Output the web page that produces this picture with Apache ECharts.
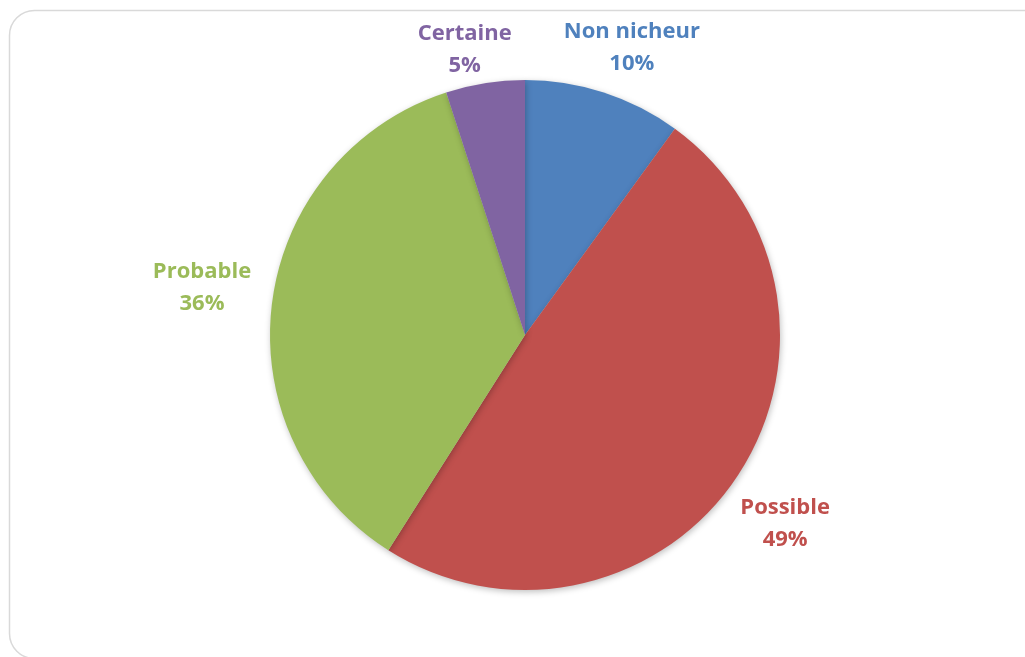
<!DOCTYPE html>
<html>
<head>
<meta charset="utf-8">
<style>
  html, body { margin: 0; padding: 0; background: #ffffff; }
  #chart { width: 1025px; height: 657px; }
</style>
<script src="https://cdn.jsdelivr.net/npm/echarts@6/dist/echarts.min.js"></script>
</head>
<body>
<div id="chart"></div>
<script>
// Breeding status shares (percent)
const categories = ['Non nicheur', 'Possible', 'Probable', 'Certaine'];
const shares = [10, 49, 36, 5];
const colors = ['#4F81BD', '#C0504D', '#9BBB59', '#8064A2'];

// pie geometry and label placement
const CX = 525, CY = 335, R = 255, GAP = 15;
const labelNudge = [[13, 2], [-8, 7], [-6, -7], [-13, 13]];
const FONT = '"Open Sans", "Noto Sans", sans-serif';

const total = shares.reduce((a, b) => a + b, 0);
// mid angle of each slice, clockwise from 12 o'clock
const midAngles = [];
let acc = 0;
shares.forEach(v => {
  midAngles.push((acc + v / 2) / total * Math.PI * 2);
  acc += v;
});

const chart = echarts.init(document.getElementById('chart'), null, { renderer: 'canvas' });

chart.setOption({
  backgroundColor: '#ffffff',
  animation: false,
  graphic: [{
    type: 'rect',
    shape: { x: 9.5, y: 10.5, width: 1040, height: 648, r: 25 },
    style: { fill: 'none', stroke: '#d9d9d9', lineWidth: 1.5 },
    silent: true,
    z: -10
  }],
  series: [{
    type: 'pie',
    center: [CX, CY],
    radius: [0, R],
    startAngle: 90,
    clockwise: true,
    avoidLabelOverlap: false,
    itemStyle: {
      borderWidth: 0,
      shadowBlur: 6,
      shadowColor: 'rgba(0,0,0,0.25)',
      shadowOffsetX: 1,
      shadowOffsetY: 2
    },
    emphasis: { disabled: true },
    label: {
      show: true,
      position: 'outside',
      fontFamily: FONT,
      fontWeight: 'bold',
      fontSize: 22,
      lineHeight: 32,
      align: 'center',
      formatter: p => p.name + '\n' + Math.round(p.percent) + '%'
    },
    labelLine: { show: false },
    labelLayout: params => {
      const i = params.dataIndex;
      const a = midAngles[i];
      const dx = Math.sin(a), dy = -Math.cos(a);
      const w = params.labelRect.width, h = params.labelRect.height;
      const tx = Math.abs(dx) > 1e-6 ? (w / 2) / Math.abs(dx) : Infinity;
      const ty = Math.abs(dy) > 1e-6 ? (h / 2) / Math.abs(dy) : Infinity;
      const d = R + GAP + Math.min(tx, ty);
      return {
        x: CX + dx * d + labelNudge[i][0],
        y: CY + dy * d + labelNudge[i][1],
        align: 'center',
        verticalAlign: 'middle'
      };
    },
    data: categories.map((name, i) => ({
      name,
      value: shares[i],
      itemStyle: { color: colors[i] },
      label: { color: colors[i] }
    }))
  }]
});
</script>
</body>
</html>
